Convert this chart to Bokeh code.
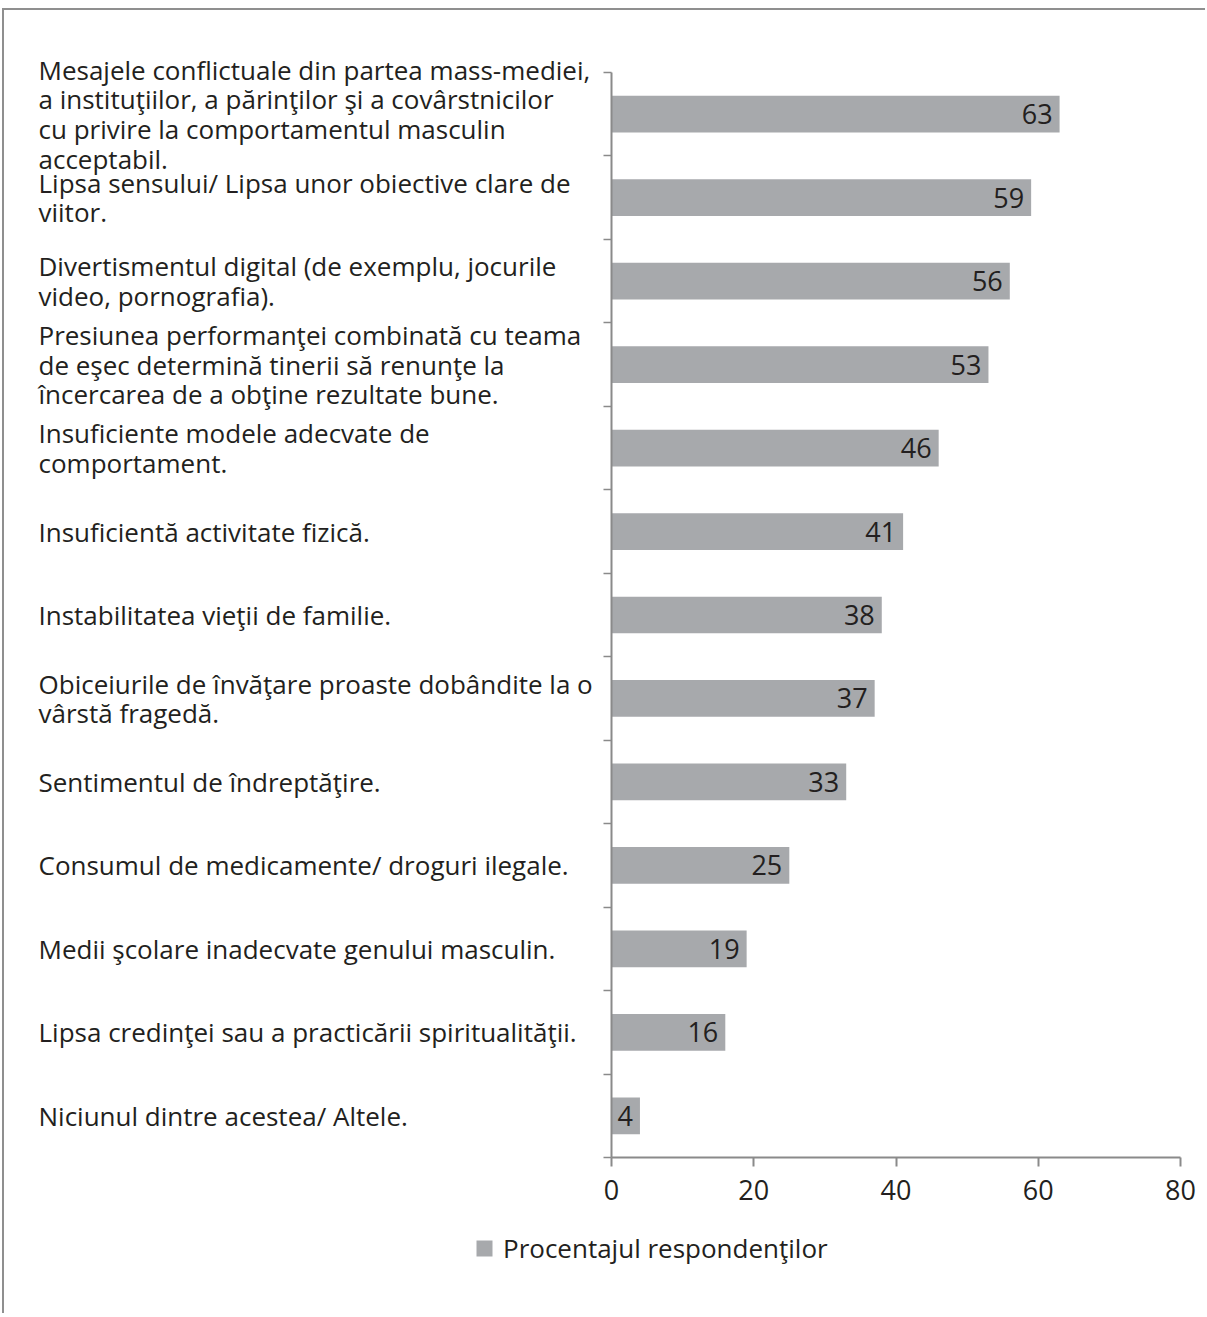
from bokeh.plotting import figure
from bokeh.models import (ColumnDataSource, Range1d, FixedTicker, LabelSet,
                          Legend, LegendItem)
from bokeh.core.properties import value
from bokeh.embed import file_html
from bokeh.resources import INLINE

categories = [
    "Mesajele conflictuale din partea mass-mediei,\na instituţiilor, a părinţilor şi a covârstnicilor\ncu privire la comportamentul masculin\nacceptabil.",
    "Lipsa sensului/ Lipsa unor obiective clare de\nviitor.",
    "Divertismentul digital (de exemplu, jocurile\nvideo, pornografia).",
    "Presiunea performanţei combinată cu teama\nde eşec determină tinerii să renunţe la\nîncercarea de a obţine rezultate bune.",
    "Insuficiente modele adecvate de\ncomportament.",
    "Insuficientă activitate fizică.",
    "Instabilitatea vieţii de familie.",
    "Obiceiurile de învăţare proaste dobândite la o\nvârstă fragedă.",
    "Sentimentul de îndreptăţire.",
    "Consumul de medicamente/ droguri ilegale.",
    "Medii şcolare inadecvate genului masculin.",
    "Lipsa credinţei sau a practicării spiritualităţii.",
    "Niciunul dintre acestea/ Altele.",
]
values = [63, 59, 56, 53, 46, 41, 38, 37, 33, 25, 19, 16, 4]
x_ticks = [0, 20, 40, 60, 80]
x_max = 80
series_name = "Procentajul respondenţilor"

n = len(categories)
ypos = [n - i - 0.5 for i in range(n)]
src = ColumnDataSource(dict(cat=categories, val=values, y=ypos,
                            lab=[str(v) for v in values]))

FONT = "Open Sans"
TXT = "#231f20"
AXC = "#8a8a8a"
BAR = "#a7a9ac"

# layout (pixels, page coordinates)
ORG_X, ORG_Y = 4, 10            # canvas origin on the page
W, H = 1203, 1305
B_LEFT, B_RIGHT, B_TOP, B_BOTTOM = 30, 4, 10, 4
frame_l = ORG_X + B_LEFT
frame_r = ORG_X + W - B_RIGHT
frame_t = ORG_Y + B_TOP
frame_b = ORG_Y + H - B_BOTTOM
axis_x0, axis_x1 = 611, 1180    # pixels of x = 0 and x = x_max
axis_top, axis_bot = 72, 1157   # pixels of y = n and y = 0

x_scale = (axis_x1 - axis_x0) / x_max
x_start = -(axis_x0 - frame_l) / x_scale
x_end = x_max + (frame_r - axis_x1) / x_scale
y_scale = (axis_bot - axis_top) / n
y_hi = n + (axis_top - frame_t) / y_scale
y_lo = -(frame_b - axis_bot) / y_scale

p = figure(width=W, height=H, output_backend="svg", toolbar_location=None,
           x_range=Range1d(x_start, x_end), y_range=Range1d(y_lo, y_hi),
           min_border_left=B_LEFT, min_border_right=B_RIGHT,
           min_border_top=B_TOP, min_border_bottom=B_BOTTOM)
p.styles = {"border-top": "2px solid #8f8f8f", "border-left": "2px solid #8f8f8f",
            "margin-top": "8px", "margin-left": "2px"}
p.outline_line_color = None
p.grid.grid_line_color = None

bars = p.hbar(y="y", right="val", left=0, height=0.44, source=src,
              fill_color=BAR, line_color=None)

# x axis (at y = 0)
xa = p.xaxis[0]
xa.fixed_location = 0
xa.ticker = FixedTicker(ticks=x_ticks)
xa.bounds = (0, x_max)
xa.axis_line_color = AXC
xa.axis_line_width = 2
xa.major_tick_line_color = AXC
xa.major_tick_line_width = 2
xa.major_tick_out = 9
xa.major_tick_in = 0
xa.minor_tick_line_color = None
xa.major_label_text_font = FONT
xa.major_label_text_font_size = "27px"
xa.major_label_text_color = TXT
xa.major_label_standoff = 13

# y axis (at x = 0, ticks at category boundaries)
ya = p.yaxis[0]
ya.fixed_location = 0
ya.bounds = (0, n)
ya.ticker = FixedTicker(ticks=list(range(n + 1)))
ya.axis_line_color = AXC
ya.axis_line_width = 2
ya.major_tick_line_color = AXC
ya.major_tick_line_width = 1.5
ya.major_tick_out = 8
ya.major_tick_in = 0
ya.minor_tick_line_color = None
ya.major_label_text_font_size = "0px"
ya.major_label_text_color = None
ya.major_label_standoff = 0

# category labels
cat_labels = LabelSet(x=0, y="y", text="cat", source=src,
                      x_offset=38 - axis_x0,
                      text_align="left", text_baseline="middle",
                      text_font=value(FONT), text_font_size="26px",
                      text_color=TXT, text_line_height=0.82)
p.add_layout(cat_labels)

# value labels
val_labels = LabelSet(x="val", y="y", text="lab", source=src, x_offset=-7,
                      text_align="right", text_baseline="middle",
                      text_font=value(FONT), text_font_size="27px",
                      text_color=TXT)
p.add_layout(val_labels)

legend = Legend(items=[LegendItem(label=series_name, renderers=[bars])],
                location=(474 - frame_l, frame_b - 1266),
                orientation="horizontal",
                border_line_color=None, background_fill_alpha=0,
                label_text_font=FONT, label_text_font_size="26px",
                label_text_color=TXT, glyph_width=20, glyph_height=20,
                padding=0, margin=0, label_standoff=9)
p.add_layout(legend, "center")

open("out.html", "w").write(file_html(p, INLINE))
